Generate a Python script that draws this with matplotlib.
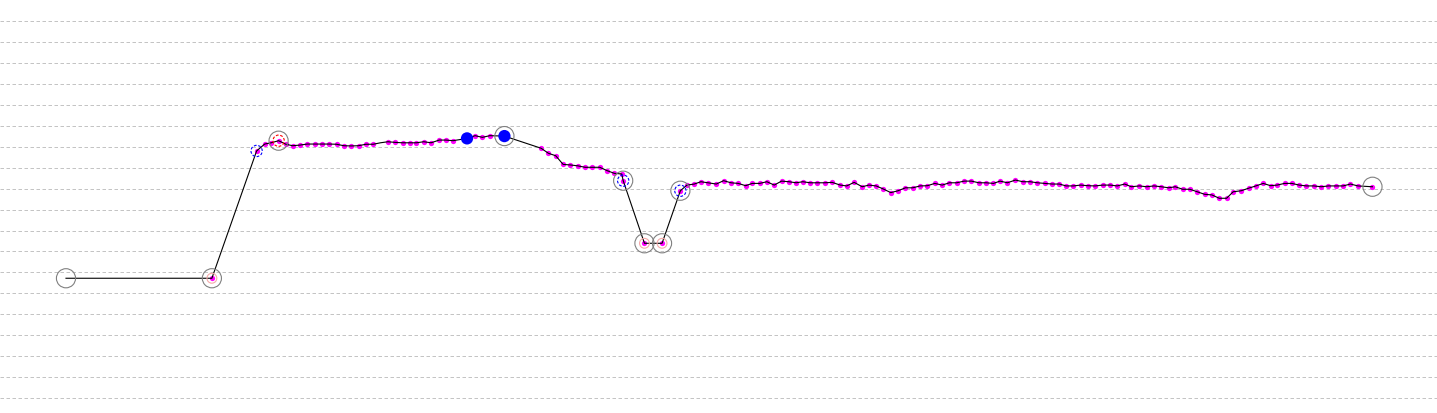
import numpy as np
import matplotlib
matplotlib.use("Agg")
import matplotlib.pyplot as plt

# distance along the track and the measured level
dist = [0.0, 19.9, 26.0, 27.1, 28.0, 29.0, 30.0, 30.9, 31.9, 32.9,
        34.0, 34.9, 35.9, 36.9, 37.9, 38.9, 39.9, 40.9, 41.9, 42.9,
        43.9, 44.9, 45.9, 46.9, 47.8, 48.8, 49.8, 50.9, 51.8, 52.8,
        54.7, 55.8, 56.8, 57.8, 59.8, 64.8, 65.8, 66.8, 67.8, 68.8,
        69.8, 70.8, 71.8, 72.8, 73.8, 74.8, 75.8, 76.0, 78.9, 81.3,
        83.8, 84.7, 85.7, 86.6, 87.6, 88.7, 89.7, 90.7, 91.7, 92.7,
        93.6, 94.6, 95.6, 96.6, 97.6, 98.6, 99.6, 100.5, 101.5, 102.5,
        103.5, 104.5, 105.6, 106.5, 107.5, 108.6, 109.5, 110.5, 111.5, 112.5,
        113.5, 114.5, 115.5, 116.5, 117.5, 118.5, 119.5, 120.5, 121.5, 122.5,
        123.5, 124.5, 125.5, 126.5, 127.4, 128.4, 129.5, 130.5, 131.5, 132.5,
        133.5, 134.5, 135.5, 136.4, 137.4, 138.4, 139.4, 140.4, 141.4, 142.4,
        143.4, 144.4, 145.3, 146.4, 147.4, 148.4, 149.4, 150.4, 151.3, 152.3,
        153.3, 154.3, 155.3, 156.3, 157.3, 158.3, 159.2, 160.3, 161.3, 162.3,
        163.3, 164.3, 165.2, 166.2, 167.2, 168.2, 169.2, 170.2, 171.2, 172.2,
        173.2, 174.2, 175.2, 176.2, 178.2]
level = [57.2, 57.2, 118.0, 121.3, 121.9, 122.9, 121.2, 120.5, 120.8, 121.3,
         121.3, 121.3, 121.3, 121.2, 120.5, 120.4, 120.5, 121.2, 121.2, 121.9,
         122.4, 122.1, 121.9, 121.9, 121.9, 122.4, 121.9, 123.2, 123.2, 122.9,
         124.0, 125.3, 124.5, 125.3, 125.1, 119.3, 116.9, 115.7, 111.6, 111.3,
         110.9, 110.2, 110.2, 110.2, 108.6, 107.3, 107.0, 103.8, 73.9, 73.9,
         99.0, 101.7, 102.2, 103.3, 102.8, 102.2, 103.8, 102.8, 102.5, 101.4,
         102.5, 102.5, 103.3, 101.7, 103.6, 103.3, 102.8, 103.3, 102.8, 102.8,
         102.8, 103.0, 101.7, 101.3, 103.0, 100.9, 101.7, 101.3, 99.8, 98.1,
         99.0, 100.4, 100.4, 101.3, 101.4, 102.5, 101.7, 102.8, 102.8, 103.6,
         103.6, 102.8, 102.8, 102.5, 103.6, 102.8, 104.1, 103.3, 103.3, 102.8,
         102.5, 102.2, 102.2, 101.3, 101.3, 101.7, 101.4, 101.3, 101.7, 101.7,
         101.3, 102.2, 100.9, 101.3, 100.9, 101.3, 100.9, 100.4, 100.9, 99.7,
         99.7, 98.5, 97.3, 97.0, 95.4, 95.4, 98.5, 99.0, 100.2, 101.3,
         102.5, 101.4, 101.7, 102.5, 102.5, 101.7, 101.3, 101.3, 100.9, 101.3,
         101.3, 101.3, 102.2, 101.3, 100.9]

# flagged points (indices into the arrays above)
gray_idx = [0, 1, 5, 34, 47, 48, 49, 50, 144]
pink_idx = [1, 48, 49]
blue_ring_idx = [2, 47, 50]
red_ring_idx = [5]
blue_fill_idx = [30, 34]
no_dot_idx = [0, 19]

dist = np.array(dist)
level = np.array(level)
dot_mask = np.ones(len(dist), bool)
dot_mask[no_dot_idx] = False

fig = plt.figure(figsize=(14.37, 4.13), dpi=100)
ax = fig.add_axes([0, 0, 1, 1])

ax.set_xlim(-9.0, 187.0)
ax.set_ylim(-7.16, 190.1)
ax.set_yticks(np.arange(0, 181, 10))
ax.yaxis.grid(True, color='#c4c4c4', linewidth=0.72, dashes=(3.5, 2.5))
ax.tick_params(length=0, labelleft=False, labelbottom=False)
for s in ax.spines.values():
    s.set_visible(False)

ax.plot(dist[dot_mask], level[dot_mask], 'o', ms=3.8, color='#ff00ff', mec='none', zorder=2)
ax.plot(dist, level, color='black', lw=0.8, zorder=3)

ax.scatter(dist[gray_idx], level[gray_idx], s=190, facecolors='none',
           edgecolors='#808080', linewidths=0.8, zorder=4)
ax.scatter(dist[pink_idx], level[pink_idx], s=50, facecolors='none',
           edgecolors='#f5a9a9', linewidths=0.8, zorder=4)
ax.scatter(dist[blue_ring_idx], level[blue_ring_idx], s=66, facecolors='none',
           edgecolors='blue', linewidths=0.8, linestyles=[(0, (2.5, 1.5))], zorder=4)
ax.scatter(dist[red_ring_idx], level[red_ring_idx], s=66, facecolors='none',
           edgecolors='red', linewidths=0.8, linestyles=[(0, (2.5, 1.5))], zorder=4)
ax.scatter(dist[blue_fill_idx], level[blue_fill_idx], s=78, color='blue',
           edgecolors='none', zorder=5)

fig.savefig('out.png', dpi=100)
